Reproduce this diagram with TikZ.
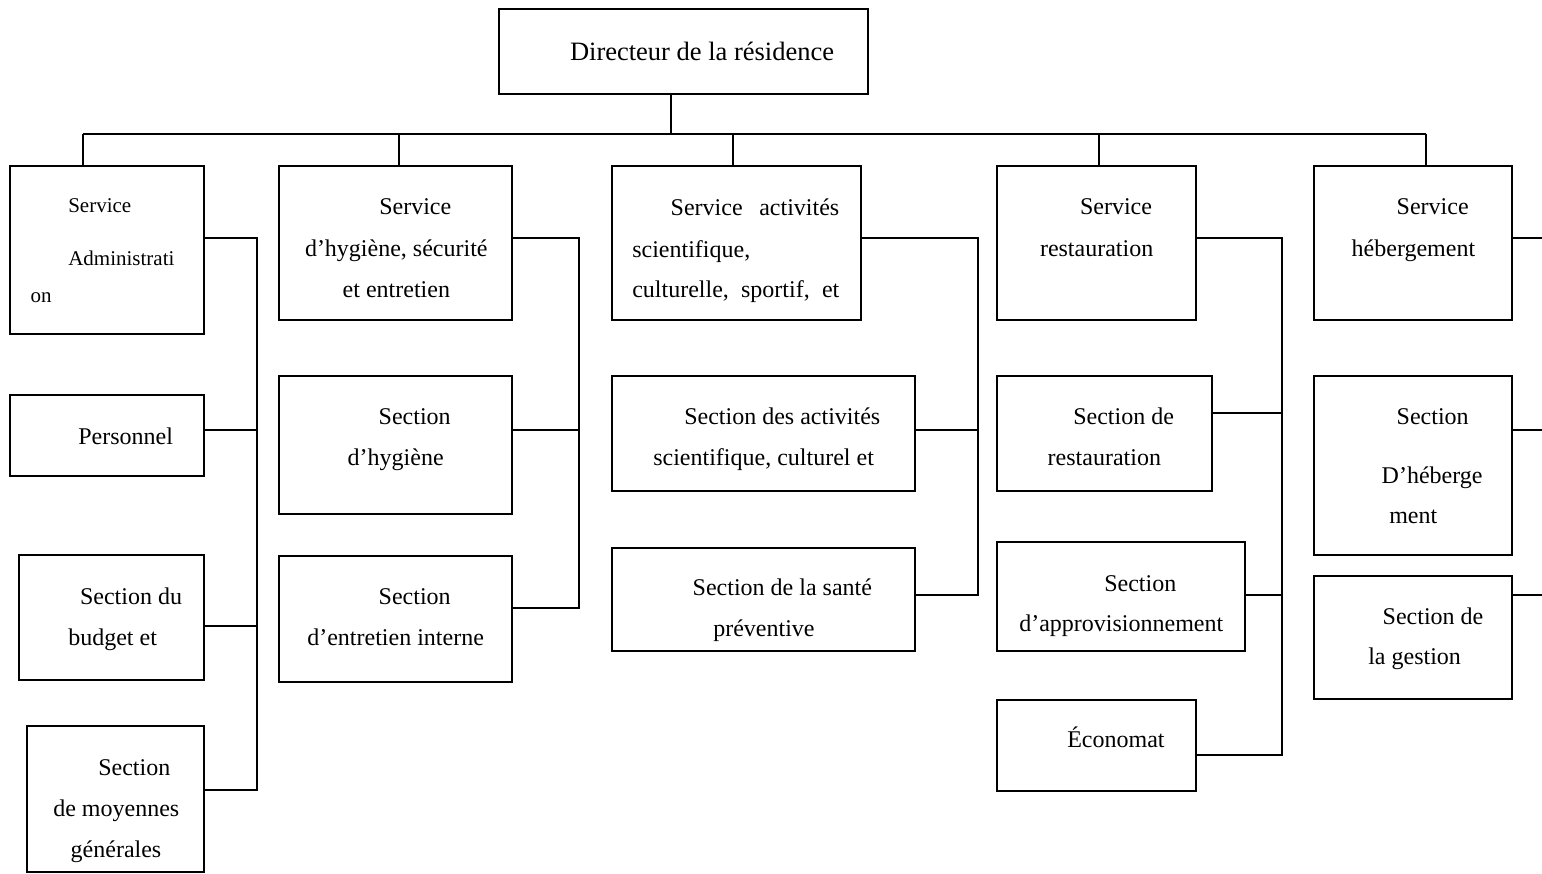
\documentclass[tikz,border=0pt]{standalone}
\usepackage{fontspec}
\setmainfont{Liberation Serif}
\usetikzlibrary{fit}
\newcommand\fsmain{\fontsize{24}{28}\selectfont}
\newcommand\fssmall{\fontsize{21}{25}\selectfont}
\newcommand\fsbig{\fontsize{26.5}{30}\selectfont}
\tikzset{
  box/.style={draw=black, line width=2pt, inner sep=0pt, fill=none},
  txt/.style={anchor=base west, inner sep=0pt, outer sep=0pt, font=\fsmain},
  stxt/.style={txt, font=\fssmall},
  link/.style={draw=black, line width=2pt},
}
\newcommand\bx[5]{\node[box, fit={(#2,#3) (#4,#5)}] (#1) {};}
\newcommand\tx[4]{\node[txt] (#1) at (#2,#3) {#4};}
\begin{document}
\begin{tikzpicture}[x=1pt,y=-1pt]
\useasboundingbox[fill=white] (0,0) rectangle (1542,873);

% ---- boxes ----
\bx{dir}{499}{9}{868}{94}
% column 1
\bx{adm}{10}{166}{204}{334}
\bx{pers}{10}{395}{204}{476}
\bx{budg}{19}{555}{204}{680}
\bx{moy}{27}{726}{204}{872}
% column 2
\bx{hyg}{279}{166}{512}{320}
\bx{shyg}{279}{376}{512}{514}
\bx{sent}{279}{556}{512}{682}
% column 3
\bx{act}{612}{166}{861}{320}
\bx{sact}{612}{376}{915}{491}
\bx{ssan}{612}{548}{915}{651}
% column 4
\bx{rest}{997}{166}{1196}{320}
\bx{srest}{997}{376}{1212}{491}
\bx{sapp}{997}{542}{1245}{651}
\bx{eco}{997}{700}{1196}{791}
% column 5
\bx{heb}{1314}{166}{1512}{320}
\bx{sheb}{1314}{376}{1512}{555}
\bx{sges}{1314}{576}{1512}{699}

% ---- texts ----
\node[txt, font=\fsbig] (tdir) at (570,60) {Directeur de la résidence};

\node[stxt] (ta1) at (68.3,212) {Service};
\node[stxt] (ta2) at (68.3,265) {Administrati};
\node[stxt] (ta3) at (30.7,302) {on};
\tx{tp1}{78.3}{444}{Personnel}
\tx{tb1}{80}{604}{Section du}
\tx{tb2}{68.3}{645}{budget et}
\tx{tm1}{98.3}{775}{Section}
\tx{tm2}{53.3}{816}{de moyennes}
\tx{tm3}{70.7}{857}{générales}

\tx{th1}{379.3}{214.5}{Service}
\tx{th2}{305}{256.5}{d’hygiène, sécurité}
\tx{th3}{342.7}{297}{et entretien}
\tx{tsh1}{378.7}{424}{Section}
\tx{tsh2}{347.7}{465.7}{d’hygiène}
\tx{tse1}{378.7}{604}{Section}
\tx{tse2}{307.3}{645}{d’entretien interne}

\tx{tac1}{670.7}{215}{\hbox to 168.6pt{Service\hfil activités}}
\tx{tac2}{632.3}{257.3}{scientifique,}
\tx{tac3}{632.3}{297.3}{\hbox to 207pt{culturelle,\hfil sportif,\hfil et}}
\tx{tsa1}{684.3}{424}{Section des activités}
\tx{tsa2}{653.3}{465}{scientifique, culturel et}
\tx{tss1}{692.7}{595}{Section de la santé}
\tx{tss2}{713.3}{636}{préventive}

\tx{tr1}{1080}{214.5}{Service}
\tx{tr2}{1040}{256}{restauration}
\tx{tsr1}{1073.3}{424}{Section de}
\tx{tsr2}{1047.7}{465.7}{restauration}
\tx{tap1}{1104.3}{591}{Section}
\tx{tap2}{1019.3}{631.7}{d’approvisionnement}
\tx{tec1}{1067.3}{747.7}{Économat}

\tx{the1}{1396.7}{214.5}{Service}
\tx{the2}{1351.7}{256}{hébergement}
\tx{tsh3}{1396.7}{424}{Section}
\tx{tsh4}{1381.7}{483}{D’héberge}
\tx{tsh5}{1389.3}{523}{ment}
\tx{tg1}{1382.7}{624}{Section de}
\tx{tg2}{1368.3}{664.5}{la gestion}

% ---- connectors ----
\coordinate (bm) at (671,134);
\coordinate (b1) at (83,134);
\coordinate (b2) at (399,134);
\coordinate (b3) at (733,134);
\coordinate (b4) at (1099,134);
\coordinate (b5) at (1426,134);
\draw[link] (dir.south -| bm) -- (bm);
\draw[link] (b1) -- (b5);
\draw[link] (b1) -- (b1 |- adm.north);
\draw[link] (b2) -- (b2 |- hyg.north);
\draw[link] (b3) -- (b3 |- act.north);
\draw[link] (b4) -- (b4 |- rest.north);
\draw[link] (b5) -- (b5 |- heb.north);

% column 1
\coordinate (v1t) at (257,238);
\coordinate (v1b) at (257,790);
\draw[link] (adm.east |- v1t) -- (v1t) -- (v1b) -- (moy.east |- v1b);
\draw[link] (pers.east |- 0,430) -- (v1t |- 0,430);
\draw[link] (budg.east |- 0,626) -- (v1t |- 0,626);

% column 2
\coordinate (v2t) at (579,238);
\coordinate (v2b) at (579,608);
\draw[link] (hyg.east |- v2t) -- (v2t) -- (v2b) -- (sent.east |- v2b);
\draw[link] (shyg.east |- 0,430) -- (v2t |- 0,430);

% column 3
\coordinate (v3t) at (978,238);
\coordinate (v3b) at (978,595);
\draw[link] (act.east |- v3t) -- (v3t) -- (v3b) -- (ssan.east |- v3b);
\draw[link] (sact.east |- 0,430) -- (v3t |- 0,430);

% column 4
\coordinate (v4t) at (1282,238);
\coordinate (v4b) at (1282,755);
\draw[link] (rest.east |- v4t) -- (v4t) -- (v4b) -- (eco.east |- v4b);
\draw[link] (srest.east |- 0,413) -- (v4t |- 0,413);
\draw[link] (sapp.east |- 0,595) -- (v4t |- 0,595);

% column 5 (run off the right edge)
\coordinate (e1) at (1542,238);
\coordinate (e2) at (1542,430);
\coordinate (e3) at (1542,595);
\draw[link] (heb.east |- e1) -- (e1);
\draw[link] (sheb.east |- e2) -- (e2);
\draw[link] (sges.east |- e3) -- (e3);
\end{tikzpicture}
\end{document}
